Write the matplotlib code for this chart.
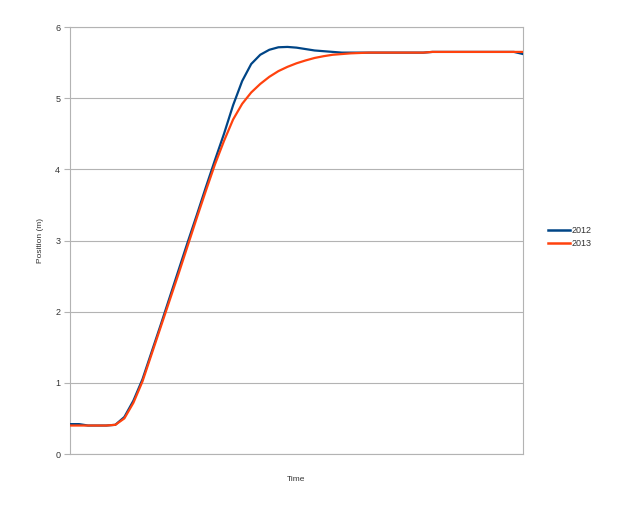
import matplotlib
matplotlib.use("Agg")
import matplotlib.pyplot as plt
from matplotlib.lines import Line2D

plt.rcParams['font.family'] = ['Liberation Sans', 'DejaVu Sans']

time = list(range(0, 101, 2))
pos_2012 = [0.42, 0.42, 0.40, 0.40, 0.40, 0.41, 0.52, 0.75, 1.05, 1.43,
            1.81, 2.20, 2.59, 2.98, 3.36, 3.75, 4.13, 4.50, 4.90, 5.24,
            5.48, 5.61, 5.68, 5.715, 5.72, 5.71, 5.69, 5.67, 5.66, 5.65,
            5.64, 5.64, 5.64, 5.64, 5.64, 5.64, 5.64, 5.64, 5.64, 5.64,
            5.65, 5.65, 5.65, 5.65, 5.65, 5.65, 5.65, 5.65, 5.65, 5.65,
            5.62]
pos_2013 = [0.40, 0.40, 0.40, 0.40, 0.40, 0.41, 0.50, 0.72, 1.02, 1.40,
            1.78, 2.16, 2.54, 2.93, 3.32, 3.70, 4.07, 4.40, 4.70, 4.92,
            5.08, 5.20, 5.30, 5.38, 5.44, 5.49, 5.53, 5.565, 5.59, 5.61,
            5.62, 5.63, 5.635, 5.64, 5.64, 5.64, 5.64, 5.64, 5.64, 5.64,
            5.65, 5.65, 5.65, 5.65, 5.65, 5.65, 5.65, 5.65, 5.65, 5.65,
            5.65]
series_names = ["2012", "2013"]
colors = ["#004586", "#ff420e"]
y_ticks = [0, 1, 2, 3, 4, 5, 6]

fig = plt.figure(figsize=(6.2, 5.08), dpi=100)
ax = fig.add_axes([70/620, 1-454/508, 453/620, 427/508])

ax.plot(time, pos_2012, color=colors[0], lw=1.6, solid_joinstyle='round', zorder=3)
ax.plot(time, pos_2013, color=colors[1], lw=1.6, solid_joinstyle='round', zorder=4)

ax.set_xlim(time[0], time[-1])
ax.set_ylim(0, 6)
ax.set_yticks(y_ticks)
ax.set_xticks([])
ax.grid(axis='y', color='#b3b3b3', lw=0.8, zorder=1)
for s in ax.spines.values():
    s.set_color('#b3b3b3')
    s.set_linewidth(0.8)
ax.tick_params(axis='y', length=4, width=0.8, color='#b3b3b3', labelsize=6.5,
               labelcolor='#333333', pad=3)
ax.set_ylabel("Position (m)", fontsize=6, color='#333333', labelpad=8)
ax.set_xlabel("Time", fontsize=6, color='#333333', labelpad=16)

handles = [Line2D([], [], color=c, lw=1.8) for c in colors]
leg = fig.legend(handles, series_names, loc='center left',
                 bbox_to_anchor=(540/620, 1-237/508), frameon=False,
                 fontsize=6.5, handlelength=2.4, handletextpad=0.2,
                 labelspacing=0.45)
for t in leg.get_texts():
    t.set_color('#333333')

fig.savefig("out.png", dpi=100, facecolor='white')
